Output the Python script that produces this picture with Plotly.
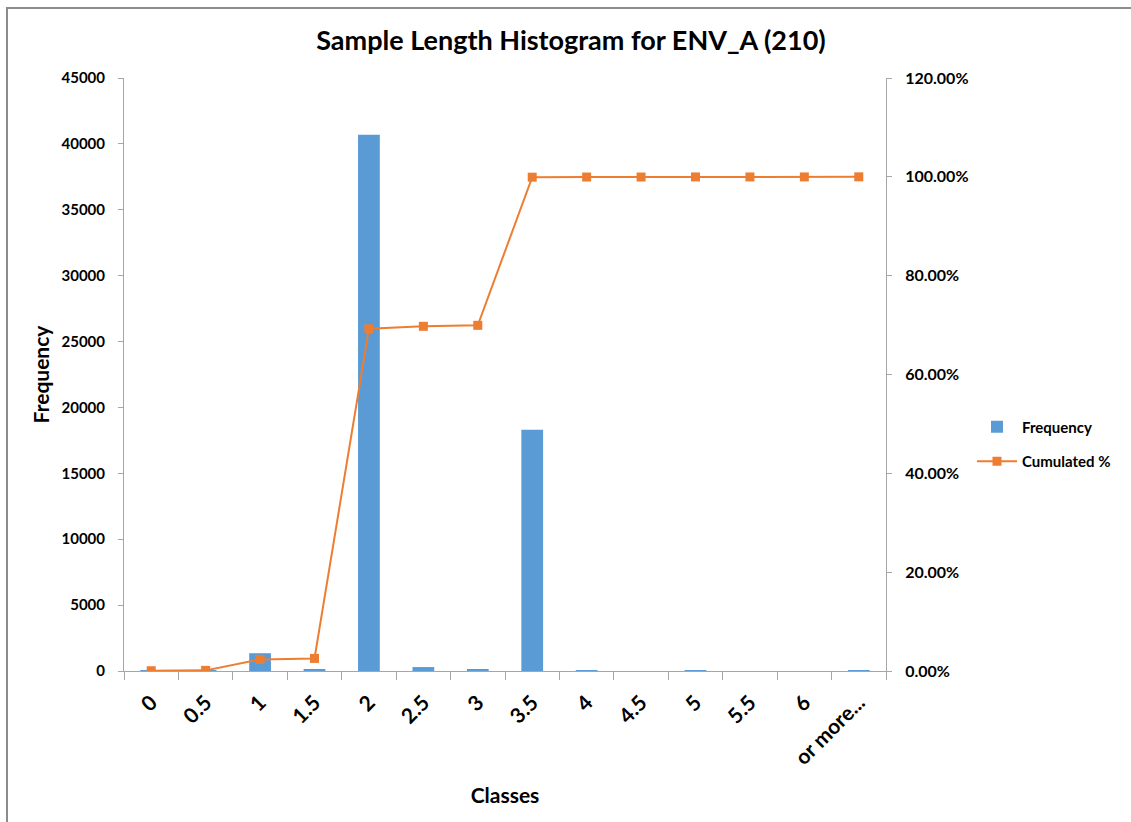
import plotly.graph_objects as go

# values
classes = ["0", "0.5", "1", "1.5", "2", "2.5", "3", "3.5", "4", "4.5", "5", "5.5", "6", "or more..."]
frequency = [30, 50, 1350, 120, 40700, 300, 120, 18300, 20, 0, 20, 0, 0, 20]
cumulated = [0.0005, 0.0013, 0.0235, 0.0255, 0.6925, 0.6975, 0.6995, 0.9993,
             0.9996, 0.9996, 0.9998, 0.9998, 0.9998, 1.0]

FONT = "Lato"
BLUE = "#5B9BD5"
ORANGE = "#ED7D31"
AXIS = "#A6A6A6"

tick_font = dict(size=15, family=FONT, weight="bold", color="black")

fig = go.Figure()

fig.add_trace(
    go.Bar(
        x=classes,
        y=frequency,
        name="Frequency",
        legendgroup="freq",
        marker=dict(color=BLUE, line=dict(width=0)),
    )
)

fig.add_trace(
    go.Scatter(
        x=classes,
        y=cumulated,
        name="Cumulated %",
        legendgroup="cum",
        yaxis="y2",
        mode="lines+markers",
        line=dict(color=ORANGE, width=2),
        marker=dict(symbol="square", size=9, color=ORANGE),
    )
)

fig.update_layout(
    width=1131,
    height=822,
    margin=dict(l=124, r=245, t=78, b=151, autoexpand=False),
    paper_bgcolor="white",
    plot_bgcolor="white",
    bargap=0.6,
    font=dict(family=FONT, color="black"),
    title=dict(
        text="<b>Sample Length Histogram for ENV_A (210)</b>",
        x=571 / 1131,
        xanchor="center",
        y=1 - 41 / 822,
        yanchor="middle",
        font=dict(size=27, family=FONT),
    ),
    xaxis=dict(
        type="category",
        range=[-0.5, len(classes) - 0.5],
        showgrid=False,
        showline=True,
        linecolor=AXIS,
        linewidth=1,
        ticks="outside",
        tickson="boundaries",
        ticklen=8,
        tickcolor=AXIS,
        tickangle=-45,
        tickfont=dict(size=21, family=FONT, weight="bold", color="black"),
        ticklabelstandoff=10,
        title=dict(text="<b>Classes</b>", font=dict(size=21, family=FONT), standoff=20),
    ),
    yaxis=dict(
        range=[0, 45000],
        dtick=5000,
        showgrid=False,
        zeroline=False,
        showline=True,
        linecolor=AXIS,
        ticks="outside",
        ticklen=5,
        tickcolor=AXIS,
        tickfont=tick_font,
        tickformat="d",
        ticklabelstandoff=10,
        title=dict(text="<b>Frequency</b>", font=dict(size=21, family=FONT), standoff=6),
    ),
    yaxis2=dict(
        range=[0, 1.2],
        dtick=0.2,
        overlaying="y",
        side="right",
        showgrid=False,
        zeroline=False,
        showline=True,
        linecolor=AXIS,
        ticks="outside",
        ticklen=5,
        tickcolor=AXIS,
        tickformat=".2%",
        tickfont=dict(size=16, family=FONT, weight="bold", color="black"),
        ticklabelstandoff=10,
    ),
    legend=dict(
        x=(972 - 124) / 762,
        xanchor="left",
        y=(671 - 444) / 593,
        yanchor="middle",
        font=dict(size=15, family=FONT, weight="bold"),
        bgcolor="rgba(0,0,0,0)",
        traceorder="grouped",
        tracegroupgap=12,
        itemwidth=40,
    ),
    showlegend=True,
    shapes=[
        dict(
            type="rect",
            xref="paper",
            yref="paper",
            x0=(7 - 124) / 762,
            x1=(1140 - 124) / 762,
            y0=(671 - 840) / 593,
            y1=(671 - 8) / 593,
            line=dict(color="#8C8C8C", width=2),
            fillcolor="rgba(0,0,0,0)",
            layer="below",
        )
    ],
)

# drop the default 8px page margin so the figure sits at the window origin
fig.write_html(
    "out.html",
    config={"displayModeBar": False},
    post_script="document.body.style.margin='0';",
)
